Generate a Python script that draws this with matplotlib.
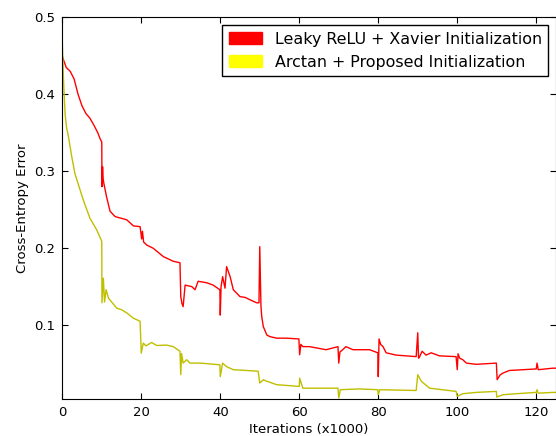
import matplotlib
matplotlib.use('Agg')
import matplotlib.pyplot as plt
import matplotlib.patches as mpatches

# Leaky ReLU + Xavier Initialization
relu_x = [0, 0.3, 1, 2, 3, 4, 5, 6, 7, 8, 9, 9.6, 10, 10.05, 10.2, 10.35, 10.5,
          11.2, 12.1, 13.4, 16.3, 18, 19.7, 20.1, 20.3, 20.6, 21.4, 23, 25.6, 28.1, 29.8,
          30.0, 30.3, 30.6, 31.1, 32.8, 33.6, 34.4, 36.6, 38.2, 39.9, 40.0, 40.2, 40.6,
          41.2, 41.6, 42.5, 43.3, 45, 46.3, 47.5, 49.2, 49.8, 50.0, 50.3, 50.5, 50.9,
          51.8, 52.6, 54.3, 56.7, 59.9, 60.1, 60.4, 60.9, 62.6, 66.8, 69.8, 70.0, 70.3,
          71, 71.8, 73.6, 77.8, 79.9, 80.0, 80.2, 80.6, 81.2, 82, 84.5, 89.6, 90.0, 90.2,
          90.4, 91.1, 92.1, 93.4, 95.5, 99.7, 100.0, 100.2, 100.6, 101.4, 102.3, 104.8,
          109.9, 110.1, 110.8, 111.6, 113.2, 116.6, 120, 120.2, 120.5, 124.2, 125]
relu_y = [0.450, 0.445, 0.435, 0.430, 0.420, 0.400, 0.385, 0.375, 0.369, 0.360, 0.350, 0.342, 0.338, 0.280, 0.306, 0.290, 0.285,
          0.267, 0.248, 0.241, 0.237, 0.229, 0.228, 0.212, 0.222, 0.208, 0.204, 0.200, 0.189, 0.183, 0.181,
          0.137, 0.128, 0.124, 0.152, 0.150, 0.146, 0.157, 0.155, 0.152, 0.146, 0.113, 0.150, 0.163,
          0.148, 0.176, 0.163, 0.146, 0.137, 0.136, 0.133, 0.129, 0.129, 0.202, 0.125, 0.111, 0.098,
          0.087, 0.085, 0.083, 0.083, 0.082, 0.0615, 0.075, 0.072, 0.072, 0.068, 0.072, 0.0506, 0.065,
          0.068, 0.072, 0.068, 0.068, 0.064, 0.033, 0.082, 0.075, 0.072, 0.064, 0.061, 0.059, 0.090, 0.057,
          0.058, 0.066, 0.061, 0.064, 0.060, 0.059, 0.042, 0.0627, 0.057, 0.055, 0.0506, 0.049,
          0.0506, 0.029, 0.035, 0.0377, 0.041, 0.042, 0.043, 0.0506, 0.042, 0.044, 0.044]

# Arctan + Proposed Initialization
atan_x = [0, 0.3, 0.7, 1.1, 1.5, 2.4, 3.2, 5.3, 7, 8.7, 10, 10.05, 10.4, 10.7, 11.1,
          11.7, 13.8, 15, 16.3, 18, 19.7, 20.0, 20.5, 21.2, 22.6, 23.9, 26.4, 28.1, 29.8,
          30.0, 30.2, 30.6, 31.5, 32.3, 34.9, 39.9, 40.0, 40.6, 41.6, 43.3, 46.7, 49.6,
          50.0, 50.9, 51.8, 54.3, 60, 60.1, 60.9, 66.8, 69.8, 70.0, 70.4, 75.2, 79.9,
          80.0, 80.4, 89.6, 90.0, 90.9, 93, 99.7, 100.0, 101.4, 104.8, 109.9, 110.0,
          111.6, 115, 120, 120.2, 120.5, 124.2, 125]
atan_y = [0.470, 0.420, 0.375, 0.356, 0.347, 0.319, 0.297, 0.263, 0.239, 0.224, 0.209, 0.129, 0.161, 0.130, 0.146,
          0.135, 0.122, 0.120, 0.116, 0.109, 0.105, 0.0636, 0.0766, 0.073, 0.0774, 0.0735, 0.074, 0.072, 0.066,
          0.0355, 0.063, 0.0506, 0.055, 0.0506, 0.0506, 0.0484, 0.033, 0.0506, 0.046, 0.042, 0.041, 0.040,
          0.0247, 0.029, 0.027, 0.0225, 0.0203, 0.031, 0.018, 0.018, 0.018, 0.0052, 0.016, 0.017, 0.016,
          0.0095, 0.016, 0.015, 0.0355, 0.027, 0.018, 0.0138, 0.0073, 0.0108, 0.0125, 0.0138, 0.0065,
          0.0095, 0.0108, 0.0125, 0.016, 0.0115, 0.0125, 0.0125]

labels = ['Leaky ReLU + Xavier Initialization', 'Arctan + Proposed Initialization']

fig = plt.figure(figsize=(5.56, 4.36), dpi=100)
ax = fig.add_axes([0.112, 0.085, 0.888, 0.875])

ax.plot(relu_x, relu_y, color='#ff0000', linewidth=1.0)
ax.plot(atan_x, atan_y, color='#bfbf00', linewidth=1.0)

ax.set_xlim(0, 125)
ax.set_ylim(0.004, 0.5)
ax.set_xticks([0, 20, 40, 60, 80, 100, 120])
ax.set_yticks([0.1, 0.2, 0.3, 0.4, 0.5])
ax.tick_params(direction='in', top=True, right=True, length=4, labelsize=9.5, pad=5)
ax.set_xlabel('Iterations (x1000)', fontsize=9.5, labelpad=3)
ax.set_ylabel('Cross-Entropy Error', fontsize=9.5)

handles = [mpatches.Patch(color='#ff0000'), mpatches.Patch(color='#ffff00')]
leg = ax.legend(handles, labels, loc='upper right', fontsize=11.4, fancybox=False,
                framealpha=1, edgecolor='black', handlelength=2.1, handleheight=0.75,
                borderaxespad=0.5)
leg.get_frame().set_linewidth(1.0)

fig.savefig('out.png', dpi=100, facecolor='white')
